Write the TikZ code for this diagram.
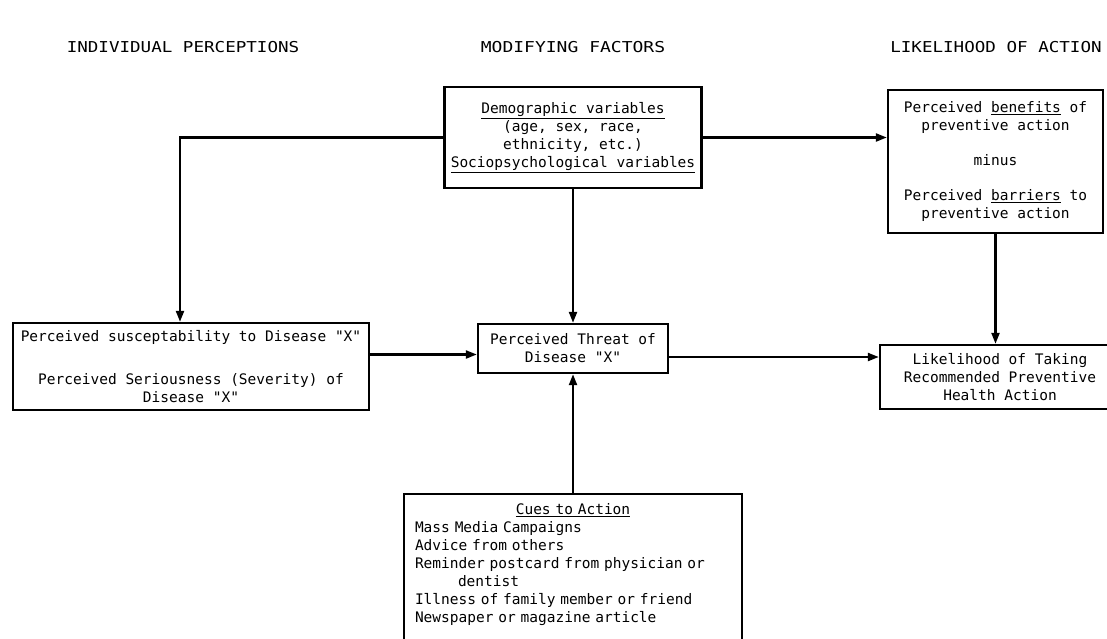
\documentclass[tikz,border=0pt]{standalone}
\usepackage{graphicx}
\usepackage{fontspec}
\setmonofont{DejaVu Sans Mono}
\usetikzlibrary{arrows.meta}
\tikzset{
  box/.style={draw, line width=2.4pt, align=center, inner sep=0pt, font=\ttfamily\fontsize{14.5}{18}\selectfont},
  arr/.style={line width=2.2pt, -{Triangle[length=11pt,width=8pt]}},
  hdr/.style={inner sep=0pt, font=\ttfamily\fontsize{15}{18}\selectfont}
}
\begin{document}
\begin{tikzpicture}[x=1pt,y=-1pt]
\useasboundingbox (0,0) rectangle (1107,638);
\clip (0,0) rectangle (1107,638);
\fill[white] (0,0) rectangle (1107,638);
% headers
\node[hdr] (h1) at (183,47) {\scalebox{1.17}[1]{INDIVIDUAL PERCEPTIONS}};
\node[hdr] (h2) at (573,47) {\scalebox{1.2}[1]{MODIFYING FACTORS}};
\node[hdr] (h3) at (996,47) {\scalebox{1.17}[1]{LIKELIHOOD OF ACTION}};
% boxes
\node[box, minimum width=257pt, minimum height=101pt] (demo) at (573,137.5)
  {\underline{Demographic variables}\\(age, sex, race,\\ethnicity, etc.)\\\underline{Sociopsychological variables}};
\node[box, minimum width=215pt, minimum height=143pt] (ben) at (995.5,161.5)
  {Perceived \underline{benefits} of\\preventive action\\[17pt]minus\\[17pt]Perceived \underline{barriers} to\\preventive action};
\node[box, minimum width=356pt, minimum height=87pt] (left) at (191,366.5)
  {Perceived susceptability to Disease "X"\\[25pt]Perceived Seriousness (Severity) of\\Disease "X"};
\node[box, minimum width=190pt, minimum height=49pt] (threat) at (573,348.5)
  {Perceived Threat of\\Disease "X"};
\node[box, minimum width=240pt, minimum height=64pt] (lik) at (1000,377)
  {Likelihood of Taking\\Recommended Preventive\\Health Action};
\node[box, anchor=north, text width=316pt, align=left, inner xsep=11pt, inner ysep=9pt] (cues) at (573,493)
  {\makebox[316pt]{\underline{Cues to Action}}\\Mass Media Campaigns\\Advice from others\\Reminder postcard from physician or\\\hspace*{43pt}dentist\\Illness of family member or friend\\Newspaper or magazine article\\\strut\\\strut};
% connectors
\coordinate (lk) at (180,0);
\coordinate (ta) at ([yshift=-6pt]threat.west);
\coordinate (tb) at ([yshift=-8.5pt]threat.east);
\draw[arr] (demo.west) -| (lk |- left.north);
\draw[arr] (demo.east) -- (demo.east -| ben.west);
\draw[arr] (demo.south) -- (threat.north);
\draw[arr] (cues.north) -- (threat.south);
\draw[arr] (ta -| left.east) -- (ta);
\draw[arr] (tb) -- (tb -| lik.west);
\draw[arr] (ben.south) -- (ben.south |- lik.north);
\end{tikzpicture}
\end{document}
